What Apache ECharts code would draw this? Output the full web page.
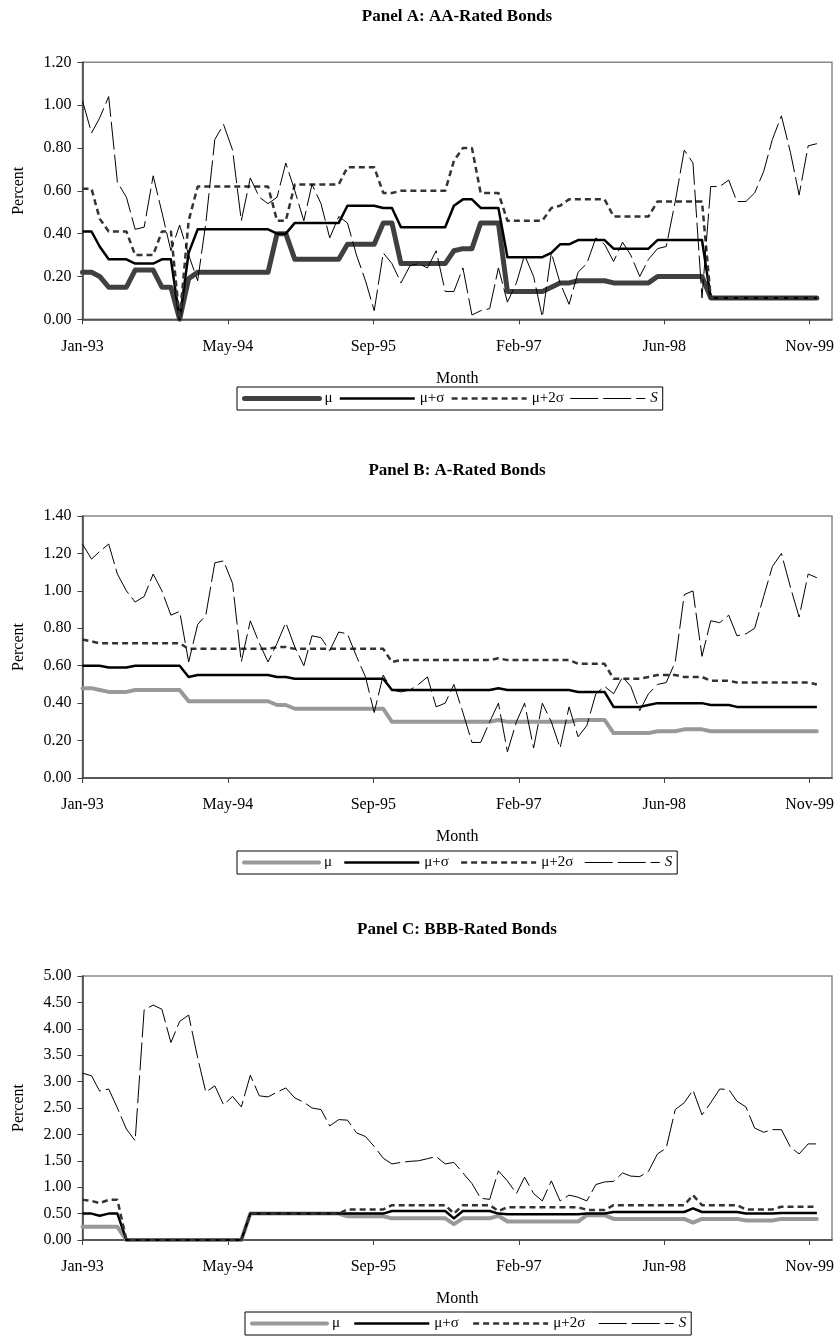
<!DOCTYPE html>
<html lang="en">
<head>
    <meta charset="UTF-8">
    <title>Bond spread panels</title>
    <style>
        * {
            margin: 0;
            padding: 0;
        }

        body {
            width: 838px;
            height: 1337px;
            background: #fff;
            position: relative;
        }

        .panel {
            position: absolute;
            left: 0;
            width: 838px;
        }
    </style>
</head>
<body>
    <div id="panelA" class="panel" style="top:0;height:450px"></div>
    <div id="panelB" class="panel" style="top:450px;height:460px"></div>
    <div id="panelC" class="panel" style="top:910px;height:427px"></div>
    <script src="https://cdn.jsdelivr.net/npm/echarts@6/dist/echarts.min.js"></script>
    <script>
        // monthly observations, Jan-93 .. Dec-99
        var months = [
            '1993-01', '1993-02', '1993-03', '1993-04', '1993-05', '1993-06', '1993-07', '1993-08', '1993-09', '1993-10', '1993-11', '1993-12',
            '1994-01', '1994-02', '1994-03', '1994-04', '1994-05', '1994-06', '1994-07', '1994-08', '1994-09', '1994-10', '1994-11', '1994-12',
            '1995-01', '1995-02', '1995-03', '1995-04', '1995-05', '1995-06', '1995-07', '1995-08', '1995-09', '1995-10', '1995-11', '1995-12',
            '1996-01', '1996-02', '1996-03', '1996-04', '1996-05', '1996-06', '1996-07', '1996-08', '1996-09', '1996-10', '1996-11', '1996-12',
            '1997-01', '1997-02', '1997-03', '1997-04', '1997-05', '1997-06', '1997-07', '1997-08', '1997-09', '1997-10', '1997-11', '1997-12',
            '1998-01', '1998-02', '1998-03', '1998-04', '1998-05', '1998-06', '1998-07', '1998-08', '1998-09', '1998-10', '1998-11', '1998-12',
            '1999-01', '1999-02', '1999-03', '1999-04', '1999-05', '1999-06', '1999-07', '1999-08', '1999-09', '1999-10', '1999-11', '1999-12'
        ];

        // x axis: date axis in days from 1 Jan 1993, a label every 500 days
        var xTickLabels = ['Jan-93', 'May-94', 'Sep-95', 'Feb-97', 'Jun-98', 'Nov-99'];
        var xTickDays = [0, 500, 1000, 1500, 2000, 2500];

        // Panel A: AA-rated
        var aMu = [
            0.22, 0.22, 0.20, 0.15, 0.15, 0.15, 0.23, 0.23, 0.23, 0.15,
            0.15, 0.00, 0.19, 0.22, 0.22, 0.22, 0.22, 0.22, 0.22, 0.22,
            0.22, 0.22, 0.40, 0.40, 0.28, 0.28, 0.28, 0.28, 0.28, 0.28,
            0.35, 0.35, 0.35, 0.35, 0.45, 0.45, 0.26, 0.26, 0.26, 0.26,
            0.26, 0.26, 0.32, 0.33, 0.33, 0.45, 0.45, 0.45, 0.13, 0.13,
            0.13, 0.13, 0.13, 0.15, 0.17, 0.17, 0.18, 0.18, 0.18, 0.18,
            0.17, 0.17, 0.17, 0.17, 0.17, 0.20, 0.20, 0.20, 0.20, 0.20,
            0.20, 0.10, 0.10, 0.10, 0.10, 0.10, 0.10, 0.10, 0.10, 0.10,
            0.10, 0.10, 0.10, 0.10
        ];
        var aSig1 = [
            0.41, 0.41, 0.34, 0.28, 0.28, 0.28, 0.26, 0.26, 0.26, 0.28,
            0.28, 0.00, 0.31, 0.42, 0.42, 0.42, 0.42, 0.42, 0.42, 0.42,
            0.42, 0.42, 0.40, 0.40, 0.45, 0.45, 0.45, 0.45, 0.45, 0.45,
            0.53, 0.53, 0.53, 0.53, 0.52, 0.52, 0.43, 0.43, 0.43, 0.43,
            0.43, 0.43, 0.53, 0.56, 0.56, 0.52, 0.52, 0.52, 0.29, 0.29,
            0.29, 0.29, 0.29, 0.31, 0.35, 0.35, 0.37, 0.37, 0.37, 0.37,
            0.33, 0.33, 0.33, 0.33, 0.33, 0.37, 0.37, 0.37, 0.37, 0.37,
            0.37, 0.10, 0.10, 0.10, 0.10, 0.10, 0.10, 0.10, 0.10, 0.10,
            0.10, 0.10, 0.10, 0.10
        ];
        var aSig2 = [
            0.61, 0.61, 0.47, 0.41, 0.41, 0.41, 0.30, 0.30, 0.30, 0.41,
            0.41, 0.00, 0.46, 0.62, 0.62, 0.62, 0.62, 0.62, 0.62, 0.62,
            0.62, 0.62, 0.46, 0.46, 0.63, 0.63, 0.63, 0.63, 0.63, 0.63,
            0.71, 0.71, 0.71, 0.71, 0.59, 0.59, 0.60, 0.60, 0.60, 0.60,
            0.60, 0.60, 0.74, 0.80, 0.80, 0.59, 0.59, 0.59, 0.46, 0.46,
            0.46, 0.46, 0.46, 0.52, 0.53, 0.56, 0.56, 0.56, 0.56, 0.56,
            0.48, 0.48, 0.48, 0.48, 0.48, 0.55, 0.55, 0.55, 0.55, 0.55,
            0.55, 0.10, 0.10, 0.10, 0.10, 0.10, 0.10, 0.10, 0.10, 0.10,
            0.10, 0.10, 0.10, 0.10
        ];
        var aS = [
            1.02, 0.87, 0.94, 1.04, 0.64, 0.57, 0.42, 0.43, 0.67, 0.50,
            0.32, 0.44, 0.30, 0.18, 0.45, 0.84, 0.91, 0.79, 0.46, 0.66,
            0.57, 0.54, 0.57, 0.73, 0.60, 0.46, 0.63, 0.54, 0.38, 0.48,
            0.45, 0.30, 0.18, 0.04, 0.31, 0.26, 0.17, 0.25, 0.26, 0.24,
            0.32, 0.13, 0.13, 0.24, 0.02, 0.04, 0.05, 0.24, 0.08, 0.17,
            0.30, 0.20, 0.01, 0.31, 0.17, 0.07, 0.22, 0.26, 0.38, 0.35,
            0.27, 0.36, 0.30, 0.20, 0.28, 0.33, 0.34, 0.55, 0.79, 0.73,
            0.10, 0.62, 0.62, 0.65, 0.55, 0.55, 0.59, 0.69, 0.84, 0.95,
            0.78, 0.58, 0.81, 0.82
        ];

        // Panel B: A-rated
        var bMu = [
            0.48, 0.48, 0.47, 0.46, 0.46, 0.46, 0.47, 0.47, 0.47, 0.47,
            0.47, 0.47, 0.41, 0.41, 0.41, 0.41, 0.41, 0.41, 0.41, 0.41,
            0.41, 0.41, 0.39, 0.39, 0.37, 0.37, 0.37, 0.37, 0.37, 0.37,
            0.37, 0.37, 0.37, 0.37, 0.37, 0.30, 0.30, 0.30, 0.30, 0.30,
            0.30, 0.30, 0.30, 0.30, 0.30, 0.30, 0.30, 0.31, 0.30, 0.30,
            0.30, 0.30, 0.30, 0.30, 0.30, 0.30, 0.31, 0.31, 0.31, 0.31,
            0.24, 0.24, 0.24, 0.24, 0.24, 0.25, 0.25, 0.25, 0.26, 0.26,
            0.26, 0.25, 0.25, 0.25, 0.25, 0.25, 0.25, 0.25, 0.25, 0.25,
            0.25, 0.25, 0.25, 0.25
        ];
        var bSig1 = [
            0.60, 0.60, 0.60, 0.59, 0.59, 0.59, 0.60, 0.60, 0.60, 0.60,
            0.60, 0.60, 0.54, 0.55, 0.55, 0.55, 0.55, 0.55, 0.55, 0.55,
            0.55, 0.55, 0.54, 0.54, 0.53, 0.53, 0.53, 0.53, 0.53, 0.53,
            0.53, 0.53, 0.53, 0.53, 0.53, 0.47, 0.47, 0.47, 0.47, 0.47,
            0.47, 0.47, 0.47, 0.47, 0.47, 0.47, 0.47, 0.48, 0.47, 0.47,
            0.47, 0.47, 0.47, 0.47, 0.47, 0.47, 0.46, 0.46, 0.46, 0.46,
            0.38, 0.38, 0.38, 0.38, 0.39, 0.40, 0.40, 0.40, 0.40, 0.40,
            0.40, 0.39, 0.39, 0.39, 0.38, 0.38, 0.38, 0.38, 0.38, 0.38,
            0.38, 0.38, 0.38, 0.38
        ];
        var bSig2 = [
            0.74, 0.73, 0.72, 0.72, 0.72, 0.72, 0.72, 0.72, 0.72, 0.72,
            0.72, 0.72, 0.69, 0.69, 0.69, 0.69, 0.69, 0.69, 0.69, 0.69,
            0.69, 0.69, 0.70, 0.70, 0.69, 0.69, 0.69, 0.69, 0.69, 0.69,
            0.69, 0.69, 0.69, 0.69, 0.69, 0.62, 0.63, 0.63, 0.63, 0.63,
            0.63, 0.63, 0.63, 0.63, 0.63, 0.63, 0.63, 0.64, 0.63, 0.63,
            0.63, 0.63, 0.63, 0.63, 0.63, 0.63, 0.61, 0.61, 0.61, 0.61,
            0.53, 0.53, 0.53, 0.53, 0.54, 0.55, 0.55, 0.55, 0.54, 0.54,
            0.54, 0.52, 0.52, 0.52, 0.51, 0.51, 0.51, 0.51, 0.51, 0.51,
            0.51, 0.51, 0.51, 0.50
        ];
        var bS = [
            1.25, 1.17, 1.21, 1.25, 1.09, 1.00, 0.94, 0.97, 1.09, 1.00,
            0.87, 0.89, 0.62, 0.82, 0.87, 1.15, 1.16, 1.04, 0.62, 0.84,
            0.72, 0.62, 0.72, 0.83, 0.70, 0.60, 0.76, 0.75, 0.68, 0.78,
            0.77, 0.65, 0.54, 0.35, 0.55, 0.47, 0.46, 0.47, 0.50, 0.54,
            0.38, 0.40, 0.50, 0.35, 0.19, 0.19, 0.30, 0.40, 0.14, 0.30,
            0.40, 0.16, 0.40, 0.30, 0.16, 0.38, 0.22, 0.28, 0.45, 0.49,
            0.45, 0.54, 0.49, 0.36, 0.45, 0.50, 0.51, 0.62, 0.98, 1.00,
            0.65, 0.84, 0.83, 0.87, 0.76, 0.77, 0.80, 0.97, 1.13, 1.20,
            1.02, 0.86, 1.09, 1.07
        ];

        // Panel C: BBB-rated
        var cMu = [
            0.25, 0.25, 0.25, 0.25, 0.25, 0.00, 0.00, 0.00, 0.00, 0.00,
            0.00, 0.00, 0.00, 0.00, 0.00, 0.00, 0.00, 0.00, 0.00, 0.50,
            0.50, 0.50, 0.50, 0.50, 0.50, 0.50, 0.50, 0.50, 0.50, 0.50,
            0.45, 0.45, 0.45, 0.45, 0.45, 0.41, 0.41, 0.41, 0.41, 0.41,
            0.41, 0.41, 0.30, 0.41, 0.41, 0.41, 0.41, 0.46, 0.35, 0.35,
            0.35, 0.35, 0.35, 0.35, 0.35, 0.35, 0.35, 0.47, 0.47, 0.47,
            0.40, 0.40, 0.40, 0.40, 0.40, 0.40, 0.40, 0.40, 0.40, 0.33,
            0.40, 0.40, 0.40, 0.40, 0.40, 0.37, 0.37, 0.37, 0.37, 0.40,
            0.40, 0.40, 0.40, 0.40
        ];
        var cSig1 = [
            0.50, 0.50, 0.46, 0.50, 0.50, 0.00, 0.00, 0.00, 0.00, 0.00,
            0.00, 0.00, 0.00, 0.00, 0.00, 0.00, 0.00, 0.00, 0.00, 0.50,
            0.50, 0.50, 0.50, 0.50, 0.50, 0.50, 0.50, 0.50, 0.50, 0.50,
            0.50, 0.50, 0.50, 0.50, 0.50, 0.55, 0.55, 0.55, 0.55, 0.55,
            0.55, 0.55, 0.41, 0.55, 0.55, 0.55, 0.55, 0.50, 0.49, 0.49,
            0.49, 0.49, 0.49, 0.49, 0.49, 0.49, 0.49, 0.50, 0.50, 0.50,
            0.53, 0.53, 0.53, 0.53, 0.53, 0.53, 0.53, 0.53, 0.53, 0.60,
            0.53, 0.53, 0.53, 0.53, 0.53, 0.50, 0.50, 0.50, 0.50, 0.51,
            0.51, 0.51, 0.51, 0.51
        ];
        var cSig2 = [
            0.76, 0.74, 0.70, 0.76, 0.76, 0.00, 0.00, 0.00, 0.00, 0.00,
            0.00, 0.00, 0.00, 0.00, 0.00, 0.00, 0.00, 0.00, 0.00, 0.50,
            0.50, 0.50, 0.50, 0.50, 0.50, 0.50, 0.50, 0.50, 0.50, 0.50,
            0.58, 0.58, 0.58, 0.58, 0.58, 0.66, 0.66, 0.66, 0.66, 0.66,
            0.66, 0.66, 0.50, 0.66, 0.66, 0.66, 0.66, 0.55, 0.62, 0.62,
            0.62, 0.62, 0.62, 0.62, 0.62, 0.62, 0.62, 0.57, 0.57, 0.57,
            0.66, 0.66, 0.66, 0.66, 0.66, 0.66, 0.66, 0.66, 0.66, 0.85,
            0.66, 0.66, 0.66, 0.66, 0.66, 0.58, 0.58, 0.58, 0.58, 0.63,
            0.63, 0.63, 0.63, 0.63
        ];
        var cS = [
            3.16, 3.11, 2.82, 2.86, 2.50, 2.10, 1.88, 4.36, 4.45, 4.37,
            3.74, 4.14, 4.26, 3.45, 2.80, 2.92, 2.56, 2.72, 2.52, 3.12,
            2.73, 2.71, 2.80, 2.88, 2.69, 2.61, 2.50, 2.47, 2.16, 2.28,
            2.27, 2.03, 1.96, 1.77, 1.55, 1.44, 1.47, 1.49, 1.50, 1.54,
            1.58, 1.44, 1.47, 1.27, 1.07, 0.79, 0.77, 1.31, 1.12, 0.88,
            1.19, 0.88, 0.74, 1.12, 0.74, 0.85, 0.81, 0.74, 1.05, 1.10,
            1.11, 1.27, 1.21, 1.20, 1.30, 1.63, 1.74, 2.47, 2.60, 2.84,
            2.37, 2.60, 2.86, 2.85, 2.63, 2.52, 2.12, 2.04, 2.09, 2.09,
            1.76, 1.63, 1.82, 1.82
        ];

        var SERIF = '"Liberation Serif", "Times New Roman", serif';
        var DAY = 86400000;
        var origin = Date.UTC(1993, 0, 1);

        // day offset of every observation (1st of the month)
        var monthDays = months.map(function (m) {
            return (Date.UTC(+m.slice(0, 4), +m.slice(5, 7) - 1, 1) - origin) / DAY;
        });

        function pairs(values) {
            return values.map(function (v, i) { return [monthDays[i], v]; });
        }

        function makeOption(p) {
            var styles = {
                'μ': { color: p.muColor, width: p.muWidth, cap: 'round', join: 'round' },
                'μ+σ': { color: '#000', width: 2.5, join: 'round' },
                'μ+2σ': { color: '#333', width: 2.5, type: [6, 4] },
                'S': { color: '#000', width: 1, type: [28, 5] }
            };
            var names = ['μ', 'μ+σ', 'μ+2σ', 'S'];
            var values = [p.mu, p.sig1, p.sig2, p.s];

            return {
                animation: false,
                title: {
                    text: p.title,
                    left: 457,
                    top: p.titleTop,
                    textAlign: 'center',
                    padding: 0,
                    textStyle: { fontFamily: SERIF, fontSize: 17, fontWeight: 'bold', color: '#000' }
                },
                grid: {
                    left: 82.5,
                    right: 6,
                    top: p.gridTop,
                    height: p.gridHeight,
                    show: true,
                    borderColor: '#888',
                    borderWidth: 1.5
                },
                xAxis: {
                    type: 'value',
                    min: 0,
                    max: 2577,
                    name: 'Month',
                    nameLocation: 'middle',
                    nameGap: 51,
                    nameTextStyle: { fontFamily: SERIF, fontSize: 16, color: '#000' },
                    axisLine: { lineStyle: { color: '#404040', width: 1.5 } },
                    axisTick: { show: true, length: 5, customValues: xTickDays, lineStyle: { color: '#404040' } },
                    axisLabel: {
                        customValues: xTickDays,
                        margin: 19,
                        fontFamily: SERIF,
                        fontSize: 16,
                        color: '#000',
                        formatter: function (v) {
                            return xTickLabels[xTickDays.indexOf(v)] || '';
                        }
                    },
                    splitLine: { show: false }
                },
                yAxis: {
                    type: 'value',
                    min: 0,
                    max: p.yMax,
                    interval: p.yStep,
                    name: 'Percent',
                    nameLocation: 'middle',
                    nameGap: 56,
                    nameTextStyle: { fontFamily: SERIF, fontSize: 16, color: '#000' },
                    axisLine: { show: true, lineStyle: { color: '#404040', width: 1.5 } },
                    axisTick: { show: true, length: 5, lineStyle: { color: '#404040' } },
                    axisLabel: {
                        margin: 11,
                        fontFamily: SERIF,
                        fontSize: 16,
                        color: '#000',
                        formatter: function (v) { return v.toFixed(2); }
                    },
                    splitLine: { show: false }
                },
                legend: {
                    left: p.legendLeft,
                    top: p.legendTop,
                    itemWidth: 75,
                    itemHeight: 12,
                    itemGap: p.legendGap,
                    padding: [4, 5],
                    borderColor: '#000',
                    borderWidth: 1,
                    selectedMode: false,
                    textStyle: {
                        fontFamily: SERIF,
                        fontSize: 15,
                        color: '#000',
                        rich: { it: { fontFamily: SERIF, fontSize: 15, fontStyle: 'italic', color: '#000' } }
                    },
                    formatter: function (name) { return name === 'S' ? '{it|S}' : name; },
                    data: names.map(function (n) {
                        // line sample only, no marker in the middle
                        return { name: n, lineStyle: { width: styles[n].width }, itemStyle: { opacity: 0 } };
                    })
                },
                series: names.map(function (n, k) {
                    return {
                        name: n,
                        type: 'line',
                        symbol: 'none',
                        data: pairs(values[k]),
                        lineStyle: styles[n],
                        itemStyle: { color: styles[n].color },
                        z: 2 + k
                    };
                })
            };
        }

        var panels = [
            {
                el: 'panelA', title: 'Panel A: AA-Rated Bonds', titleTop: 8,
                gridTop: 62.3, gridHeight: 257, yMax: 1.2, yStep: 0.2,
                legendLeft: 237, legendTop: 387, legendGap: 6,
                muColor: '#404040', muWidth: 5,
                mu: aMu, sig1: aSig1, sig2: aSig2, s: aS
            },
            {
                el: 'panelB', title: 'Panel B: A-Rated Bonds', titleTop: 12,
                gridTop: 66, gridHeight: 262, yMax: 1.4, yStep: 0.2,
                legendLeft: 237, legendTop: 401, legendGap: 11,
                muColor: '#999', muWidth: 4,
                mu: bMu, sig1: bSig1, sig2: bSig2, s: bS
            },
            {
                el: 'panelC', title: 'Panel C: BBB-Rated Bonds', titleTop: 11,
                gridTop: 66, gridHeight: 264, yMax: 5, yStep: 0.5,
                legendLeft: 245, legendTop: 402, legendGap: 13,
                muColor: '#999', muWidth: 4,
                mu: cMu, sig1: cSig1, sig2: cSig2, s: cS
            }
        ];

        panels.forEach(function (p) {
            var chart = echarts.init(document.getElementById(p.el), null, { renderer: 'canvas' });
            chart.setOption(makeOption(p));
        });
    </script>
</body>
</html>
